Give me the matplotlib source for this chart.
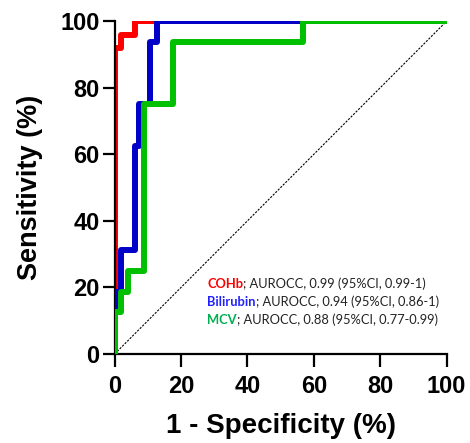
import matplotlib.pyplot as plt

plt.rcParams['font.family'] = ['Liberation Sans', 'DejaVu Sans']

# ROC corner points (1 - specificity %, sensitivity %)
cohb_fpr = [0, 0, 2, 2, 6, 6, 100]
cohb_tpr = [0, 92, 92, 96, 96, 100, 100]

bili_fpr = [0, 0, 2, 2, 6, 6, 7.4, 7.4, 10.6, 10.6, 12.7, 12.7, 100]
bili_tpr = [0, 18.75, 18.75, 31.25, 31.25, 62.5, 62.5, 75, 75, 93.75, 93.75, 100, 100]

mcv_fpr = [0, 0, 2, 2, 4, 4, 8.8, 8.8, 17.5, 17.5, 56.7, 56.7, 100]
mcv_tpr = [0, 12.5, 12.5, 18.75, 18.75, 25, 25, 75, 75, 93.75, 93.75, 100, 100]

names = ["COHb", "Bilirubin", "MCV"]
stats = ["; AUROCC, 0.99 (95%CI, 0.99-1)",
         "; AUROCC, 0.94 (95%CI, 0.86-1)",
         "; AUROCC, 0.88 (95%CI, 0.77-0.99)"]
line_colors = ["#ff0000", "#0000c8", "#00c000"]
text_colors = ["#ff0000", "#2222ff", "#00b050"]

fig = plt.figure(figsize=(4.7, 4.43), dpi=100)
ax = fig.add_axes([0.244, 0.201, 0.706, 0.751])

ax.plot([0, 100], [0, 100], color="black", lw=0.8, ls=(0, (2, 1.2)), zorder=1)
ax.plot(cohb_fpr, cohb_tpr, color=line_colors[0], lw=4.3, zorder=2)
ax.plot(bili_fpr, bili_tpr, color=line_colors[1], lw=4.3, zorder=3)
ax.plot(mcv_fpr, mcv_tpr, color=line_colors[2], lw=4.3, zorder=4)

ax.set_xlim(0, 100)
ax.set_ylim(0, 100)
ax.set_xticks(range(0, 101, 20))
ax.set_yticks(range(0, 101, 20))
for s in ["top", "right"]:
    ax.spines[s].set_visible(False)
for s in ["left", "bottom"]:
    ax.spines[s].set_linewidth(1.6)
    ax.spines[s].set_clip_on(False)
ax.tick_params(axis="both", length=9, width=1.6, labelsize=17)
ax.tick_params(axis="x", pad=6)
ax.tick_params(axis="y", pad=2)
for lab in ax.get_xticklabels() + ax.get_yticklabels():
    lab.set_fontweight("bold")

ax.set_xlabel("1 - Specificity (%)", fontsize=20, fontweight="bold", labelpad=11)
ax.set_ylabel("Sensitivity (%)", fontsize=19.5, fontweight="bold", labelpad=12)

# legend-like annotation, coloured name followed by black stats
fig.canvas.draw()
renderer = fig.canvas.get_renderer()
baselines = [0.350, 0.309, 0.269]
for i in range(3):
    y = baselines[i]
    t = fig.text(0.441, y, names[i], color=text_colors[i], fontsize=9.3,
                 fontweight="bold", family=["Lato", "DejaVu Sans"], va="baseline")
    w = t.get_window_extent(renderer).width / fig.bbox.width
    fig.text(0.441 + w, y, stats[i], color="#222222", fontsize=9.3,
             family=["Lato", "DejaVu Sans"], va="baseline")

fig.savefig("out.png", dpi=100)
